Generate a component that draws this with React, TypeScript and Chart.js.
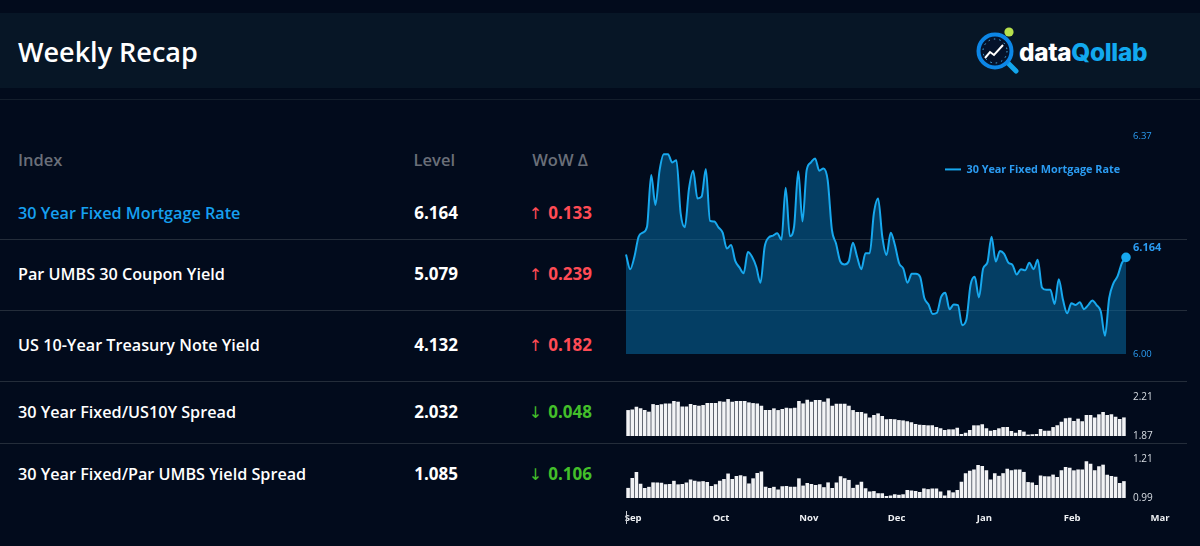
import React, { useEffect, useRef } from "react";
import { Chart, registerables } from "chart.js";

Chart.register(...registerables);

const FONT = '"Open Sans", "Noto Sans", sans-serif';

const mortgageRate = [
  6.169, 6.144, 6.165, 6.199, 6.206, 6.216, 6.304, 6.253, 6.312, 6.339,
  6.339, 6.325, 6.329, 6.239, 6.215, 6.281, 6.311, 6.264, 6.267, 6.314,
  6.226, 6.225, 6.215, 6.206, 6.179, 6.185, 6.158, 6.147, 6.137, 6.173,
  6.165, 6.148, 6.121, 6.182, 6.198, 6.201, 6.205, 6.194, 6.282, 6.200,
  6.216, 6.310, 6.225, 6.312, 6.325, 6.332, 6.311, 6.315, 6.295, 6.211,
  6.187, 6.157, 6.152, 6.157, 6.189, 6.165, 6.144, 6.171, 6.171, 6.239,
  6.264, 6.199, 6.168, 6.206, 6.185, 6.154, 6.145, 6.121, 6.136, 6.136,
  6.131, 6.095, 6.084, 6.068, 6.070, 6.097, 6.104, 6.076, 6.084, 6.083,
  6.049, 6.058, 6.117, 6.131, 6.096, 6.145, 6.155, 6.199, 6.157, 6.175,
  6.170, 6.155, 6.151, 6.135, 6.144, 6.142, 6.155, 6.144, 6.160, 6.113,
  6.109, 6.109, 6.085, 6.127, 6.092, 6.069, 6.086, 6.083, 6.088, 6.076,
  6.083, 6.091, 6.083, 6.072, 6.031, 6.095, 6.120, 6.132, 6.154, 6.164,
];

const fixedTreasurySpread = [
  2.096, 2.102, 2.125, 2.111, 2.096, 2.082, 2.148, 2.140, 2.146, 2.154,
  2.154, 2.175, 2.169, 2.128, 2.128, 2.148, 2.140, 2.134, 2.140, 2.157,
  2.157, 2.157, 2.172, 2.169, 2.192, 2.169, 2.175, 2.175, 2.175, 2.163,
  2.157, 2.154, 2.134, 2.096, 2.096, 2.111, 2.096, 2.105, 2.117, 2.111,
  2.117, 2.175, 2.154, 2.186, 2.169, 2.183, 2.183, 2.169, 2.198, 2.134,
  2.151, 2.151, 2.151, 2.134, 2.096, 2.079, 2.079, 2.067, 2.032, 2.053,
  2.067, 2.044, 2.015, 2.018, 2.015, 2.009, 2.006, 1.998, 1.989, 1.974,
  1.969, 1.966, 1.963, 1.963, 1.948, 1.937, 1.922, 1.928, 1.928, 1.943,
  1.887, 1.899, 1.922, 1.963, 1.963, 1.972, 1.937, 1.916, 1.922, 1.937,
  1.948, 1.948, 1.914, 1.899, 1.922, 1.908, 1.882, 1.885, 1.887, 1.931,
  1.916, 1.916, 1.948, 1.963, 1.995, 2.024, 2.030, 2.001, 2.021, 1.998,
  2.053, 2.053, 2.032, 2.059, 2.079, 2.053, 2.059, 2.038, 2.018, 2.032,
];

const fixedUmbsSpread = [
  1.047, 1.103, 1.137, 1.071, 1.047, 1.053, 1.078, 1.078, 1.076, 1.067,
  1.069, 1.087, 1.067, 1.069, 1.078, 1.094, 1.088, 1.083, 1.085, 1.080,
  1.058, 1.067, 1.088, 1.097, 1.128, 1.097, 1.114, 1.119, 1.112, 1.072,
  1.101, 1.131, 1.140, 1.053, 1.047, 1.053, 1.038, 1.056, 1.058, 1.054,
  1.054, 1.101, 1.060, 1.074, 1.069, 1.063, 1.067, 1.051, 1.078, 1.047,
  1.078, 1.112, 1.101, 1.092, 1.047, 1.065, 1.081, 1.045, 1.026, 1.029,
  1.017, 1.017, 1.001, 1.004, 1.011, 1.008, 1.011, 1.035, 1.033, 1.029,
  1.024, 1.044, 1.040, 1.044, 1.044, 1.026, 1.004, 1.033, 1.022, 1.035,
  1.081, 1.130, 1.144, 1.151, 1.176, 1.171, 1.146, 1.094, 1.130, 1.115,
  1.130, 1.155, 1.146, 1.151, 1.151, 1.137, 1.080, 1.078, 1.063, 1.117,
  1.112, 1.112, 1.122, 1.108, 1.146, 1.165, 1.160, 1.146, 1.151, 1.151,
  1.198, 1.183, 1.146, 1.169, 1.178, 1.121, 1.114, 1.110, 1.074, 1.085,
];

const monthLabels = ["Sep", "Oct", "Nov", "Dec", "Jan", "Feb", "Mar"];

const rowNames = [
  "30 Year Fixed Mortgage Rate",
  "Par UMBS 30 Coupon Yield",
  "US 10-Year Treasury Note Yield",
  "30 Year Fixed/US10Y Spread",
  "30 Year Fixed/Par UMBS Yield Spread",
];
const rowLevels = ["6.164", "5.079", "4.132", "2.032", "1.085"];
const rowDeltas = ["0.133", "0.239", "0.182", "0.048", "0.106"];
const rowDirections = ["up", "up", "up", "down", "down"];
const rowCenters = [213, 274, 345, 412, 474];
const rowLines = [239, 310, 381, 443];

const LINE_BLUE = "#17a8ee";
const AXIS_BLUE = "#2b9cf2";
const AXIS_WHITE = "#d8dde3";
const CANVAS_LEFT = 600;
const CANVAS_WIDTH = 590;
const PLOT_LEFT_PAD = 26;
const RIGHT_AXIS = 64;
const V_PAD = 13;

function lineConfig(): any {
  const last = mortgageRate.length - 1;
  return {
    type: "line",
    data: {
      labels: mortgageRate.map((_, i) => i),
      datasets: [
        {
          label: "30 Year Fixed Mortgage Rate",
          data: mortgageRate,
          borderColor: LINE_BLUE,
          backgroundColor: "rgba(8,106,160,0.55)",
          borderWidth: 2,
          fill: "origin",
          cubicInterpolationMode: "monotone",
          pointRadius: (c: any) => (c.dataIndex === last ? 3.8 : 0),
          pointBackgroundColor: LINE_BLUE,
          pointBorderColor: LINE_BLUE,
          pointBorderWidth: 2,
          clip: false,
        },
      ],
    },
    options: {
      animation: false,
      responsive: false,
      layout: { padding: { left: PLOT_LEFT_PAD, right: 0, top: V_PAD, bottom: V_PAD } },
      plugins: {
        tooltip: { enabled: false },
        legend: {
          position: "chartArea",
          align: "start",
          labels: {
            usePointStyle: true,
            pointStyle: "line",
            pointStyleWidth: 16,
            padding: 8,
            color: AXIS_BLUE,
            font: { family: FONT, size: 10.85, weight: "700" },
          },
        },
      },
      scales: {
        x: { display: false, offset: false },
        y: {
          position: "right",
          min: 6,
          max: 6.37,
          afterBuildTicks: (s: any) => {
            s.ticks = [{ value: 6 }, { value: 6.37 }];
          },
          afterFit: (s: any) => {
            s.width = RIGHT_AXIS;
          },
          grid: { display: false, drawTicks: false },
          border: { display: false },
          ticks: {
            padding: 7,
            color: AXIS_BLUE,
            font: { family: FONT, size: 9.5 },
            callback: (v: any) => Number(v).toFixed(2),
          },
        },
      },
    },
    plugins: [
      {
        id: "legendPlace",
        afterLayout: (chart: any) => {
          const l = chart.legend;
          l.left = 337;
          l.top = 33;
        },
      },
      {
        id: "lastValue",
        afterDatasetsDraw: (chart: any) => {
          const ctx = chart.ctx;
          const x = chart.scales.x.getPixelForValue(last);
          const y = chart.scales.y.getPixelForValue(mortgageRate[last]);
          ctx.save();
          ctx.fillStyle = AXIS_BLUE;
          ctx.font = `700 11px ${FONT}`;
          ctx.textBaseline = "middle";
          ctx.fillText(mortgageRate[last].toFixed(3), x + 7, y - 10);
          ctx.restore();
        },
      },
    ],
  };
}

function barConfig(values: number[], min: number, max: number, label: string): any {
  return {
    type: "bar",
    data: {
      labels: values.map((_, i) => i),
      datasets: [
        {
          label,
          data: values,
          backgroundColor: "#f2f3f5",
          categoryPercentage: 1,
          barPercentage: 0.86,
        },
      ],
    },
    options: {
      animation: false,
      responsive: false,
      layout: { padding: { left: PLOT_LEFT_PAD, right: 0, top: V_PAD, bottom: V_PAD } },
      plugins: { legend: { display: false }, tooltip: { enabled: false } },
      scales: {
        x: { display: false },
        y: {
          position: "right",
          min,
          max,
          afterBuildTicks: (s: any) => {
            s.ticks = [{ value: min }, { value: max }];
          },
          afterFit: (s: any) => {
            s.width = RIGHT_AXIS;
          },
          grid: { display: false, drawTicks: false },
          border: { display: false },
          ticks: {
            padding: 7,
            color: AXIS_WHITE,
            font: { family: FONT, size: 10 },
            callback: (v: any) => Number(v).toFixed(2),
          },
        },
      },
    },
  };
}

function axisConfig(): any {
  return {
    type: "line",
    data: { labels: monthLabels, datasets: [{ data: [], label: "months" }] },
    options: {
      animation: false,
      responsive: false,
      layout: { padding: { left: 33.2, right: 30, top: 0, bottom: 0 } },
      plugins: { legend: { display: false }, tooltip: { enabled: false } },
      scales: {
        y: { display: false },
        x: {
          offset: false,
          grid: { display: false, drawTicks: false },
          border: { display: false },
          ticks: {
            autoSkip: false,
            maxRotation: 0,
            padding: 0,
            color: "#eef0f3",
            font: { family: FONT, size: 9.5, weight: "700" },
          },
        },
      },
    },
  };
}

function ChartCanvas({ config, top, height }: { config: () => any; top: number; height: number }) {
  const ref = useRef<HTMLCanvasElement>(null);
  useEffect(() => {
    const chart = new Chart(ref.current as HTMLCanvasElement, config());
    return () => chart.destroy();
  }, []);
  return (
    <canvas
      ref={ref}
      width={CANVAS_WIDTH}
      height={height}
      style={{ position: "absolute", left: CANVAS_LEFT, top, width: CANVAS_WIDTH, height }}
    />
  );
}

function Logo() {
  return (
    <>
      <svg width={70} height={70} style={{ position: "absolute", left: 970, top: 20 }} viewBox="970 20 70 70">
        <line x1={1007} y1={62} x2={1016} y2={71} stroke="#13a6ec" strokeWidth={5} strokeLinecap="round" />
        <circle cx={995} cy={51} r={16.5} fill="#04122a" stroke="#0c86e6" strokeWidth={4} />
        <circle cx={995} cy={51} r={12} fill="none" stroke="#4fb6f0" strokeWidth={1} strokeDasharray="1.5 4" />
        <polyline points="985,58 990,52 994,55 1003,45" fill="none" stroke="#ffffff" strokeWidth={2} />
        <circle cx={1009} cy={32} r={4.6} fill="#b7e04c" />
      </svg>
      <div
        style={{
          position: "absolute",
          left: 1019,
          top: 36,
          lineHeight: "32px",
          fontFamily: '"Inter", sans-serif',
          fontWeight: 800,
          fontSize: 24.3,
          letterSpacing: -0.3,
          whiteSpace: "nowrap",
        }}
      >
        <span style={{ color: "#ffffff" }}>data</span>
        <span style={{ color: "#12a9ef" }}>Qollab</span>
      </div>
    </>
  );
}

const textBase: React.CSSProperties = {
  position: "absolute",
  fontFamily: FONT,
  whiteSpace: "nowrap",
  lineHeight: "24px",
};

const headStyle: React.CSSProperties = { ...textBase, top: 148, fontSize: 16.5, fontWeight: 600, color: "#6a6f79" };

export default function App() {
  return (
    <div style={{ position: "fixed", left: 0, top: 0, width: 1200, height: 546, overflow: "hidden", background: "#020b1c" }}>
      <div style={{ position: "absolute", left: 0, top: 13, width: 1200, height: 75, background: "#071626" }} />
      <div style={{ position: "absolute", left: 0, top: 99, width: 1200, height: 1, background: "#141e2c" }} />
      <div style={{ ...textBase, left: 18, top: 36, lineHeight: "32px", fontSize: 27, fontWeight: 600, color: "#ffffff" }}>Weekly Recap</div>
      <Logo />

      <div style={{ ...headStyle, left: 18 }}>Index</div>
      <div style={{ ...headStyle, right: 745 }}>Level</div>
      <div style={{ ...headStyle, right: 612 }}>WoW Δ</div>

      {rowLines.map((y) => (
        <div key={y} style={{ position: "absolute", left: 0, top: y, width: 1187, height: 1, background: "#242d3a" }} />
      ))}

      {rowNames.map((name, i) => {
        const up = rowDirections[i] === "up";
        const color = up ? "#ff4b55" : "#43bf2a";
        return (
          <React.Fragment key={name}>
            <div style={{ ...textBase, left: 18, top: rowCenters[i] - 12, fontSize: 16.2, fontWeight: 600, color: i === 0 ? "#16a0f0" : "#ffffff" }}>{name}</div>
            <div style={{ ...textBase, right: 742, top: rowCenters[i] - 12, fontSize: 17, fontWeight: 700, color: "#ffffff" }}>{rowLevels[i]}</div>
            <div style={{ ...textBase, right: 608, top: rowCenters[i] - 12, fontSize: 17, fontWeight: 700, color }}>
              <span style={{ fontFamily: '"DejaVu Sans", sans-serif', fontWeight: 400, fontSize: 16, marginRight: 6 }}>{up ? "↑" : "↓"}</span>
              {rowDeltas[i]}
            </div>
          </React.Fragment>
        );
      })}

      <ChartCanvas config={lineConfig} top={136 - V_PAD} height={218 + 2 * V_PAD} />
      <ChartCanvas config={() => barConfig(fixedTreasurySpread, 1.87, 2.21, "30 Year Fixed/US10Y Spread")} top={397 - V_PAD} height={39 + 2 * V_PAD} />
      <ChartCanvas config={() => barConfig(fixedUmbsSpread, 0.99, 1.21, "30 Year Fixed/Par UMBS Yield Spread")} top={459 - V_PAD} height={39 + 2 * V_PAD} />
      <ChartCanvas config={axisConfig} top={494} height={30} />
      <div style={{ position: "absolute", left: 626, top: 511, width: 1, height: 13, background: "#c8ccd2" }} />
    </div>
  );
}
